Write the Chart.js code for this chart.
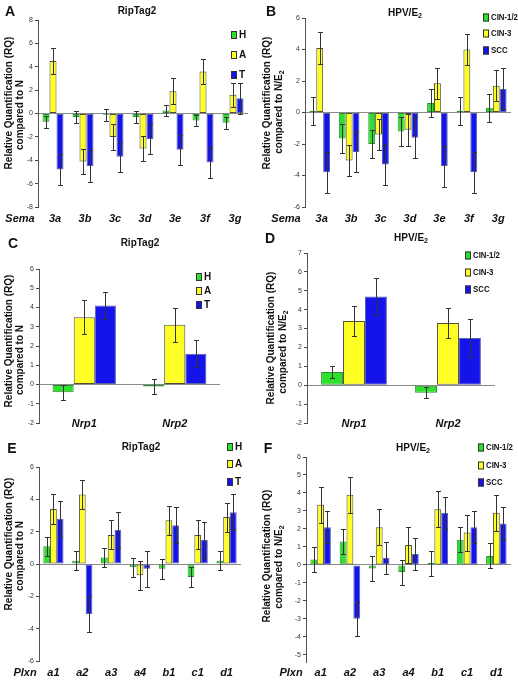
<!DOCTYPE html>
<html>
<head>
<meta charset="utf-8">
<script src="https://cdn.jsdelivr.net/npm/chart.js@4.4.0/dist/chart.umd.min.js"></script>
<style>
  body { margin: 0; background: #fff; font-family: "Liberation Sans", Arial, sans-serif; }
  #fig { position: relative; width: 518px; height: 681px; overflow: hidden; }
  canvas { position: absolute; }
  .t { position: absolute; transform: translate(-50%, -50%); white-space: nowrap; line-height: 1; font-weight: bold; color: #111; }
  .letter { font-size: 14px; }
  .title { font-size: 10px; }
  .ylab { font-size: 10px; transform: translate(-50%, -50%) rotate(-90deg); }
  sub { font-size: 70%; vertical-align: -2px; line-height: 0; }
  .lg { position: absolute; display: flex; align-items: center; font-weight: bold; font-size: 10px; line-height: 1; transform: translateY(-50%); white-space: nowrap; color: #111; }
  .lg i { display: inline-block; width: 4px; height: 6px; border: 1px solid #333; margin-right: 2px; }
  .lg.narrow span { display: inline-block; font-size: 9px; transform: scaleX(0.87); transform-origin: left center; }
</style>
</head>
<body>
<div id="fig">
  <canvas id="pA"></canvas><canvas id="pB"></canvas>
  <canvas id="pC"></canvas><canvas id="pD"></canvas>
  <canvas id="pE"></canvas><canvas id="pF"></canvas>

  <!-- panel letters and titles -->
  <div class="t letter" style="left:10px;top:11px">A</div>
  <div class="t letter" style="left:271px;top:11px">B</div>
  <div class="t letter" style="left:13px;top:243px">C</div>
  <div class="t letter" style="left:270px;top:238px">D</div>
  <div class="t letter" style="left:12px;top:448px">E</div>
  <div class="t letter" style="left:268px;top:448px">F</div>

  <div class="t title" style="left:137px;top:11px">RipTag2</div>
  <div class="t title" style="left:405px;top:13px">HPV/E<sub>2</sub></div>
  <div class="t title" style="left:140px;top:243px">RipTag2</div>
  <div class="t title" style="left:411px;top:238px">HPV/E<sub>2</sub></div>
  <div class="t title" style="left:141px;top:447px">RipTag2</div>
  <div class="t title" style="left:413px;top:448px">HPV/E<sub>2</sub></div>

  <!-- y axis titles -->
  <div class="t ylab" style="left:9px;top:103px">Relative Quantification (RQ)</div>
  <div class="t ylab" style="left:20px;top:115px">compared to N</div>
  <div class="t ylab" style="left:267px;top:103px">Relative Quantification (RQ)</div>
  <div class="t ylab" style="left:279px;top:112px">compared to N/E<sub>2</sub></div>
  <div class="t ylab" style="left:9px;top:341px">Relative Quantification (RQ)</div>
  <div class="t ylab" style="left:20px;top:360px">compared to N</div>
  <div class="t ylab" style="left:271px;top:338px">Relative Quantification (RQ)</div>
  <div class="t ylab" style="left:283px;top:352px">compared to N/E<sub>2</sub></div>
  <div class="t ylab" style="left:9px;top:544px">Relative Quantification (RQ)</div>
  <div class="t ylab" style="left:20px;top:556px">compared to N</div>
  <div class="t ylab" style="left:267px;top:556px">Relative Quantification (RQ)</div>
  <div class="t ylab" style="left:279px;top:567px">compared to N/E<sub>2</sub></div>

  <div id="legends"></div>
</div>

<script>
// ---- categories ----
const semaGenes = ['3a', '3b', '3c', '3d', '3e', '3f', '3g'];
const nrpGenes = ['Nrp1', 'Nrp2'];
const plxnGenes = ['a1', 'a2', 'a3', 'a4', 'b1', 'c1', 'd1'];
const ripStages = ['H', 'A', 'T'];
const hpvStages = ['CIN-1/2', 'CIN-3', 'SCC'];

// ---- A: Sema3, RipTag2 ----
const semaRipH = [-0.7, -0.3, -0.1, -0.3, 0.25, -0.6, -0.8];
const semaRipHErr = [0.5, 0.5, 0.5, 0.5, 0.5, 0.5, 0.5];
const semaRipA = [4.5, -4.1, -2.0, -3.0, 1.9, 3.6, 1.6];
const semaRipAErr = [1.1, 1.1, 1.1, 1.1, 1.1, 1.1, 1.05];
const semaRipT = [-4.8, -4.5, -3.7, -2.2, -3.1, -4.2, 1.3];
const semaRipTErr = [1.3, 1.35, 1.3, 1.3, 1.3, 1.3, 1.3];

// ---- B: Sema3, HPV/E2 ----
const semaHpvC12 = [0.1, -1.65, -2.0, -1.2, 0.6, 0.1, 0.3];
const semaHpvC12Err = [0.9, 0.9, 0.9, 0.9, 0.9, 0.9, 0.9];
const semaHpvC3 = [4.1, -3.05, -1.4, -1.1, 1.85, 4.0, 1.7];
const semaHpvC3Err = [1.0, 1.0, 1.0, 1.0, 1.0, 1.0, 1.0];
const semaHpvScc = [-3.8, -2.5, -3.3, -1.6, -3.4, -3.8, 1.5];
const semaHpvSccErr = [1.3, 1.3, 1.3, 1.3, 1.3, 1.3, 1.3];

// ---- C: Nrp, RipTag2 ----
const nrpRipH = [-0.4, -0.1];
const nrpRipHErr = [0.4, 0.4];
const nrpRipA = [3.5, 3.1];
const nrpRipAErr = [0.9, 0.9];
const nrpRipT = [4.1, 1.6];
const nrpRipTErr = [0.7, 0.7];

// ---- D: Nrp, HPV/E2 ----
const nrpHpvC12 = [0.7, -0.4];
const nrpHpvC12Err = [0.3, 0.3];
const nrpHpvC3 = [3.4, 3.3];
const nrpHpvC3Err = [0.8, 0.8];
const nrpHpvScc = [4.7, 2.5];
const nrpHpvSccErr = [1.0, 1.0];

// ---- E: Plxn, RipTag2 ----
const plxnRipH = [1.1, 0.2, 0.4, -0.2, -0.3, -0.8, 0.2];
const plxnRipHErr = [0.6, 0.6, 0.6, 0.6, 0.6, 0.6, 0.6];
const plxnRipA = [3.4, 4.3, 1.8, -0.7, 2.7, 1.8, 2.9];
const plxnRipAErr = [0.9, 0.9, 0.9, 0.9, 0.9, 0.9, 0.9];
const plxnRipT = [2.8, -3.1, 2.1, -0.3, 2.4, 1.5, 3.2];
const plxnRipTErr = [1.1, 1.1, 1.1, 1.1, 1.1, 1.1, 1.1];

// ---- F: Plxn, HPV/E2 ----
const plxnHpvC12 = [0.3, 1.3, -0.2, -0.4, 0.1, 1.4, 0.5];
const plxnHpvC12Err = [0.7, 0.7, 0.7, 0.7, 0.7, 0.7, 0.7];
const plxnHpvC3 = [3.35, 3.9, 2.1, 1.1, 3.1, 1.8, 2.9];
const plxnHpvC3Err = [1.0, 1.0, 1.0, 1.0, 1.0, 1.0, 1.0];
const plxnHpvScc = [2.1, -3.0, 0.4, 0.6, 2.9, 2.1, 2.3];
const plxnHpvSccErr = [0.9, 0.95, 0.9, 0.9, 0.9, 0.9, 0.9];

const FILL = ['#2ee02e', '#ffff26', '#1414ea'];
const EDGE = ['#2f8f2f', '#4d4d3a', '#5a62a8'];
const FONT = '"Liberation Sans", Arial, sans-serif';
const Y_AXIS_W = 20;

// box = canvas [left, top, w, h]; plot = chart area [left, top, right, bottom] in page px
const PANELS = [
  { id: 'pA', box: [0, 0, 259, 228], plot: [38, 20, 248, 207], min: -8, max: 8, step: 2,
    genes: semaGenes, stages: ripStages, prefix: 'Sema', prefixX: 20, labelY: 219, dx: 2,
    series: [[semaRipH, semaRipHErr], [semaRipA, semaRipAErr], [semaRipT, semaRipTErr]],
    legend: { x: 231, ys: [35, 55, 75], narrow: false } },
  { id: 'pB', box: [259, 0, 259, 228], plot: [305, 18, 511, 207], min: -6, max: 6, step: 2,
    genes: semaGenes, stages: hpvStages, prefix: 'Sema', prefixX: 286, labelY: 219, dx: 2,
    series: [[semaHpvC12, semaHpvC12Err], [semaHpvC3, semaHpvC3Err], [semaHpvScc, semaHpvSccErr]],
    legend: { x: 483, ys: [17, 33, 50], narrow: true } },
  { id: 'pC', box: [0, 225, 259, 225], plot: [39, 269, 220, 423], min: -2, max: 6, step: 1,
    genes: nrpGenes, stages: ripStages, prefix: null, labelY: 424, dx: 0,
    series: [[nrpRipH, nrpRipHErr], [nrpRipA, nrpRipAErr], [nrpRipT, nrpRipTErr]],
    legend: { x: 196, ys: [277, 291, 305], narrow: false } },
  { id: 'pD', box: [259, 225, 259, 225], plot: [307, 253, 495, 423], min: -2, max: 7, step: 1,
    genes: nrpGenes, stages: hpvStages, prefix: null, labelY: 424, dx: 0,
    series: [[nrpHpvC12, nrpHpvC12Err], [nrpHpvC3, nrpHpvC3Err], [nrpHpvScc, nrpHpvSccErr]],
    legend: { x: 465, ys: [255, 272, 289], narrow: true } },
  { id: 'pE', box: [0, 450, 259, 231], plot: [39, 467, 241, 661], min: -6, max: 6, step: 2,
    genes: plxnGenes, stages: ripStages, prefix: 'Plxn', prefixX: 25, labelY: 673, dx: 0,
    series: [[plxnRipH, plxnRipHErr], [plxnRipA, plxnRipAErr], [plxnRipT, plxnRipTErr]],
    legend: { x: 227, ys: [447, 464, 482], narrow: false } },
  { id: 'pF', box: [259, 450, 259, 231], plot: [306, 457, 511, 662], min: -5.4, max: 6, step: 1,
    genes: plxnGenes, stages: hpvStages, prefix: 'Plxn', prefixX: 291, labelY: 673, dx: 0,
    series: [[plxnHpvC12, plxnHpvC12Err], [plxnHpvC3, plxnHpvC3Err], [plxnHpvScc, plxnHpvSccErr]],
    legend: { x: 478, ys: [447, 465, 482], narrow: true } },
];

// whiskers drawn over the bars, from each dataset's own errors array
const errorBars = {
  id: 'errorBars',
  afterDatasetsDraw(chart) {
    const ctx = chart.ctx;
    const y = chart.scales.y;
    ctx.save();
    ctx.strokeStyle = '#333';
    ctx.lineWidth = 1;
    chart.data.datasets.forEach((ds, i) => {
      chart.getDatasetMeta(i).data.forEach((bar, j) => {
        const v = ds.data[j], e = ds.errors[j];
        const x = Math.round(bar.x) + 0.5;
        const y1 = Math.round(y.getPixelForValue(v + e)) + 0.5;
        const y2 = Math.round(y.getPixelForValue(v - e)) + 0.5;
        ctx.beginPath();
        ctx.moveTo(x, y1); ctx.lineTo(x, y2);
        ctx.moveTo(x - 2.5, y1); ctx.lineTo(x + 2.5, y1);
        ctx.moveTo(x - 2.5, y2); ctx.lineTo(x + 2.5, y2);
        ctx.stroke();
      });
    });
    ctx.restore();
  }
};

function geneLabels(p) {
  return {
    id: 'geneLabels',
    afterDraw(chart) {
      const ctx = chart.ctx;
      const x = chart.scales.x;
      const ly = p.labelY - p.box[1];
      ctx.save();
      ctx.font = 'italic bold 11px ' + FONT;
      ctx.fillStyle = '#111';
      ctx.textAlign = 'center';
      ctx.textBaseline = 'middle';
      p.genes.forEach((g, i) => ctx.fillText(g, x.getPixelForValue(i) + p.dx, ly));
      if (p.prefix) ctx.fillText(p.prefix, p.prefixX - p.box[0], ly);
      ctx.restore();
    }
  };
}

function makePanel(p) {
  const cv = document.getElementById(p.id);
  const [bx, by, bw, bh] = p.box;
  const [l, t, r, b] = p.plot;
  cv.width = bw; cv.height = bh;
  cv.style.left = bx + 'px'; cv.style.top = by + 'px';

  return new Chart(cv, {
    type: 'bar',
    data: {
      labels: p.genes,
      datasets: p.series.map((s, i) => ({
        label: p.stages[i],
        data: s[0],
        errors: s[1],
        backgroundColor: FILL[i],
        borderColor: EDGE[i],
        borderWidth: 1,
        borderSkipped: false,
        barPercentage: 1,
        categoryPercentage: 0.7,
      }))
    },
    options: {
      responsive: false,
      animation: false,
      events: [],
      layout: { padding: { left: l - bx - Y_AXIS_W, top: t - by, right: bx + bw - r, bottom: by + bh - b } },
      plugins: { legend: { display: false }, tooltip: { enabled: false } },
      scales: {
        x: { display: false },
        y: {
          min: p.min, max: p.max,
          afterFit: s => { s.width = Y_AXIS_W; },
          ticks: { stepSize: p.step, includeBounds: false, color: '#333', padding: 2, font: { family: FONT, size: 7 } },
          grid: { color: c => (c.tick && c.tick.value === 0 ? '#8a8a8a' : 'rgba(0,0,0,0)'), tickColor: '#444', tickLength: 3 },
          border: { color: '#555' }
        }
      }
    },
    plugins: [errorBars, geneLabels(p)]
  });
}

// small html legends, one per panel
const legendHost = document.getElementById('legends');
PANELS.forEach(p => {
  p.stages.forEach((name, i) => {
    const el = document.createElement('div');
    el.className = 'lg' + (p.legend.narrow ? ' narrow' : '');
    el.style.left = p.legend.x + 'px';
    el.style.top = p.legend.ys[i] + 'px';
    el.innerHTML = `<i style="background:${FILL[i]}"></i><span>${name}</span>`;
    legendHost.appendChild(el);
  });
  makePanel(p);
});
</script>
</body>
</html>
